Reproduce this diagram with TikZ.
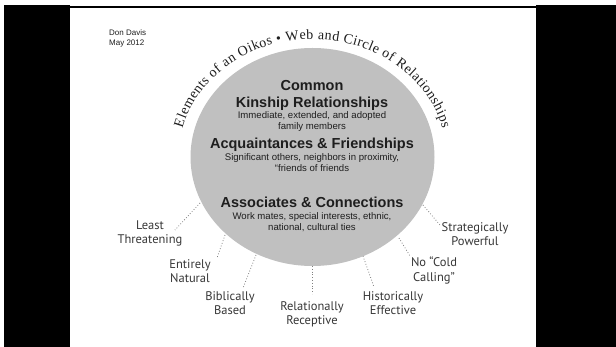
\documentclass[tikz,border=0pt]{standalone}
\usepackage{fontspec}
\setmainfont{Liberation Sans}
\newfontfamily\arcfont{Liberation Serif}
\newfontfamily\labelfont{PT Sans}
\usetikzlibrary{decorations.text}
\definecolor{discgray}{RGB}{192,192,192}
\definecolor{inktext}{RGB}{30,30,30}
\definecolor{labeltext}{RGB}{55,55,55}
\begin{document}
\begin{tikzpicture}[x=1pt,y=-1pt,
  head/.style={font=\fontsize{14.5}{16}\selectfont\bfseries, text=inktext, inner sep=0pt, anchor=base},
  sub/.style={font=\fontsize{9.6}{11}\selectfont, text=inktext, inner sep=0pt, anchor=base},
  side/.style={font=\labelfont\fontsize{12.5}{13.5}\selectfont, text=labeltext, align=center, inner sep=0pt, anchor=base},
  dotline/.style={draw=gray, dotted, line width=0.8pt}]
\useasboundingbox (0,0) rectangle (616,347);
\fill[white] (0,0) rectangle (616,347);
% frame
\fill[black] (4,5) rectangle (70,347);
\fill[black] (536,5) rectangle (616,347);
\draw[black, line width=2pt] (70,7) -- (536,7);
% disc
\coordinate (c) at (312.5,157);
\fill[discgray] (c) ellipse [x radius=122, y radius=109];
% arc title
\path[decorate, decoration={text along path, text align=fit to path,
  text={|\arcfont\fontsize{14}{14}\selectfont\color{inktext}|Elements of an Oikos {\textbullet} Web and Circle of Relationships}}]
  (c) ++(166:134pt and 118pt) arc[start angle=166, end angle=14, x radius=134pt, y radius=118pt];
% author
\node[font=\fontsize{8}{9.5}\selectfont, text=inktext, align=left, anchor=north west, inner sep=0pt] (auth) at (109,30) {Don Davis\\May 2012};
% disc texts
\node[head] (common) at (312,91) {Common};
\node[head] (kin) at (312,108) {Kinship Relationships};
\node[sub] (kin1) at (312,119) {Immediate, extended, and adopted};
\node[sub] (kin2) at (312,130) {family members};
\node[head] (acq) at (312,149) {Acquaintances \& Friendships};
\node[sub] (acq1) at (312,161) {Significant others, neighbors in proximity,};
\node[sub] (acq2) at (312,172) {“friends of friends};
\node[head] (ass) at (312,208) {Associates \& Connections};
\node[sub] (ass1) at (312,220) {Work mates, special interests, ethnic,};
\node[sub] (ass2) at (312,231) {national, cultural ties};
% side labels
\node[side] (least) at (150,230) {Least};
\node[side] (threat) at (150,244) {Threatening};
\node[side] (entire) at (190,269) {Entirely};
\node[side] (natural) at (190,283) {Natural};
\node[side] (bibl) at (230,301) {Biblically};
\node[side] (based) at (230,315) {Based};
\node[side] (rel) at (312,311) {Relationally};
\node[side] (recep) at (312,325) {Receptive};
\node[side] (hist) at (393,301) {Historically};
\node[side] (eff) at (393,315) {Effective};
\node[side] (nocold) at (434,267) {No “Cold};
\node[side] (calling) at (434,282) {Calling”};
\node[side] (strat) at (475,232) {Strategically};
\node[side] (power) at (475,246) {Powerful};
% dotted connectors
\coordinate (e1) at (200,203); \coordinate (s1) at (175,230);
\coordinate (e2) at (225,235); \coordinate (s2) at (217,258);
\coordinate (e3) at (256,255); \coordinate (s3) at (243,288);
\coordinate (e4) at (312,266); \coordinate (s4) at (312,294);
\coordinate (e5) at (363,256); \coordinate (s5) at (374,287);
\coordinate (e6) at (399,238); \coordinate (s6) at (410,256);
\coordinate (e7) at (423,205); \coordinate (s7) at (440,225);
\foreach \i in {1,...,7} {\draw[dotline] (e\i) -- (s\i);}
\end{tikzpicture}
\end{document}
